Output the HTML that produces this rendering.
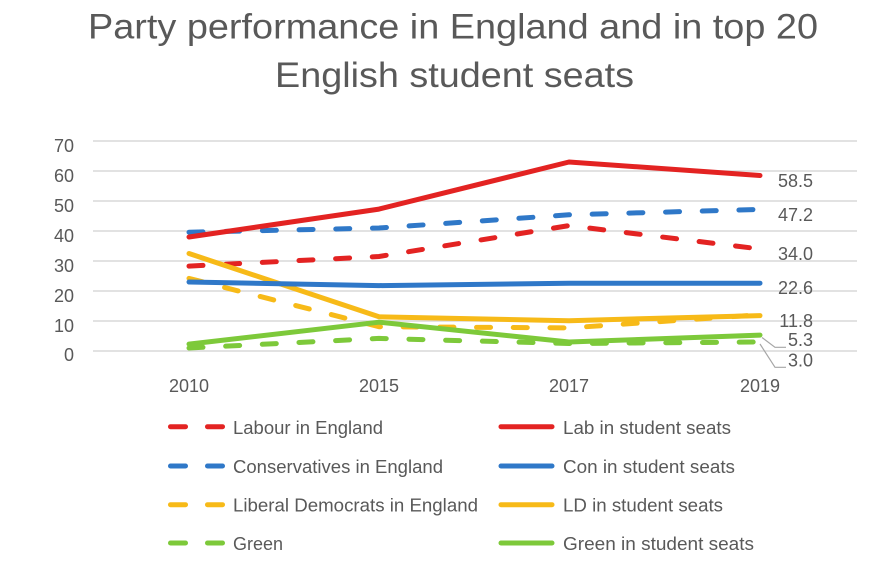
<!DOCTYPE html>
<html>
<head>
<meta charset="utf-8">
<style>
  html, body { margin: 0; padding: 0; background: #ffffff; }
  svg { display: block; }
  text { font-family: "Liberation Sans", Arial, sans-serif; fill: #595959; }
</style>
</head>
<body>
<svg width="890" height="583" viewBox="0 0 890 583" xmlns="http://www.w3.org/2000/svg">
  <rect width="890" height="583" fill="#ffffff"/>

  <!-- Title -->
  <text x="88" y="38.5" font-size="35" textLength="730" lengthAdjust="spacingAndGlyphs">Party performance in England and in top 20</text>
  <text x="275" y="87" font-size="35" textLength="359" lengthAdjust="spacingAndGlyphs">English student seats</text>

  <!-- Gridlines -->
  <g stroke="#d9d9d9" stroke-width="1.5">
    <line x1="93" y1="141" x2="857" y2="141"/>
    <line x1="93" y1="171" x2="857" y2="171"/>
    <line x1="93" y1="201" x2="857" y2="201"/>
    <line x1="93" y1="231" x2="857" y2="231"/>
    <line x1="93" y1="261" x2="857" y2="261"/>
    <line x1="93" y1="291" x2="857" y2="291"/>
    <line x1="93" y1="321" x2="857" y2="321"/>
    <line x1="93" y1="351" x2="857" y2="351"/>
  </g>

  <!-- Y axis labels -->
  <g font-size="18" text-anchor="end">
    <text x="74" y="152">70</text>
    <text x="74" y="182">60</text>
    <text x="74" y="212">50</text>
    <text x="74" y="242">40</text>
    <text x="74" y="272">30</text>
    <text x="74" y="302">20</text>
    <text x="74" y="332">10</text>
    <text x="74" y="361">0</text>
  </g>

  <!-- X axis labels -->
  <g font-size="18" text-anchor="middle">
    <text x="189" y="392">2010</text>
    <text x="379" y="392">2015</text>
    <text x="569" y="392">2017</text>
    <text x="760" y="392">2019</text>
  </g>

  <!-- Dashed series (England) -->
  <g fill="none" stroke-width="5" stroke-linecap="round" stroke-linejoin="round" stroke-dasharray="14 22.7">
    <polyline stroke="#7dc93a" points="189,348 379,338.4 569,343.5 760,342"/>
    <polyline stroke="#2f78c8" points="189,232.2 379,228 569,214.8 760,209.4"/>
    <polyline stroke="#e32322" points="189,266.1 379,256.5 569,225.6 760,249"/>
    <polyline stroke="#f7ba18" points="189,278.4 379,326.7 569,327.9 760,314.7"/>
  </g>

  <!-- Solid series (student seats) -->
  <g fill="none" stroke-width="5" stroke-linecap="round" stroke-linejoin="round">
    <polyline stroke="#7dc93a" points="189,344.1 379,322.2 569,342 760,335.1"/>
    <polyline stroke="#f7ba18" points="189,253.5 379,316.8 569,320.7 760,315.6"/>
    <polyline stroke="#2f78c8" points="189,282 379,285.6 569,283.2 760,283.2"/>
    <polyline stroke="#e32322" points="189,237 379,209.1 569,162 760,175.5"/>
  </g>

  <!-- Leader lines -->
  <g fill="none" stroke="#a6a6a6" stroke-width="1.2">
    <polyline points="762,337.5 775,347.3 786,347.3"/>
    <polyline points="760,344 775,367.3 786,367.3"/>
  </g>

  <!-- Data labels -->
  <g font-size="18" text-anchor="end">
    <text x="813" y="187">58.5</text>
    <text x="813" y="221">47.2</text>
    <text x="813" y="260">34.0</text>
    <text x="813" y="294">22.6</text>
    <text x="813" y="327">11.8</text>
    <text x="813" y="346">5.3</text>
    <text x="813" y="366.5">3.0</text>
  </g>

  <!-- Legend: dashed -->
  <g fill="none" stroke-width="5" stroke-linecap="round">
    <line x1="170.5" y1="426.7" x2="185.5" y2="426.7" stroke="#e32322"/>
    <line x1="207.5" y1="426.7" x2="222.5" y2="426.7" stroke="#e32322"/>
    <line x1="170.5" y1="466" x2="185.5" y2="466" stroke="#2f78c8"/>
    <line x1="207.5" y1="466" x2="222.5" y2="466" stroke="#2f78c8"/>
    <line x1="170.5" y1="504.7" x2="185.5" y2="504.7" stroke="#f7ba18"/>
    <line x1="207.5" y1="504.7" x2="222.5" y2="504.7" stroke="#f7ba18"/>
    <line x1="170.5" y1="543" x2="185.5" y2="543" stroke="#7dc93a"/>
    <line x1="207.5" y1="543" x2="222.5" y2="543" stroke="#7dc93a"/>
  </g>
  <!-- Legend: solid -->
  <g fill="none" stroke-width="5" stroke-linecap="round">
    <line x1="501" y1="426.7" x2="552" y2="426.7" stroke="#e32322"/>
    <line x1="501" y1="466" x2="552" y2="466" stroke="#2f78c8"/>
    <line x1="501" y1="504.7" x2="552" y2="504.7" stroke="#f7ba18"/>
    <line x1="501" y1="543" x2="552" y2="543" stroke="#7dc93a"/>
  </g>

  <!-- Legend text -->
  <g font-size="18">
    <text x="233" y="434" textLength="150" lengthAdjust="spacingAndGlyphs">Labour in England</text>
    <text x="233" y="473" textLength="210" lengthAdjust="spacingAndGlyphs">Conservatives in England</text>
    <text x="233" y="511.7" textLength="245" lengthAdjust="spacingAndGlyphs">Liberal Democrats in England</text>
    <text x="233" y="550" textLength="50" lengthAdjust="spacingAndGlyphs">Green</text>
    <text x="563" y="434" textLength="168" lengthAdjust="spacingAndGlyphs">Lab in student seats</text>
    <text x="563" y="473" textLength="172" lengthAdjust="spacingAndGlyphs">Con in student seats</text>
    <text x="563" y="511.7" textLength="160" lengthAdjust="spacingAndGlyphs">LD in student seats</text>
    <text x="563" y="550" textLength="191" lengthAdjust="spacingAndGlyphs">Green in student seats</text>
  </g>
</svg>
</body>
</html>
